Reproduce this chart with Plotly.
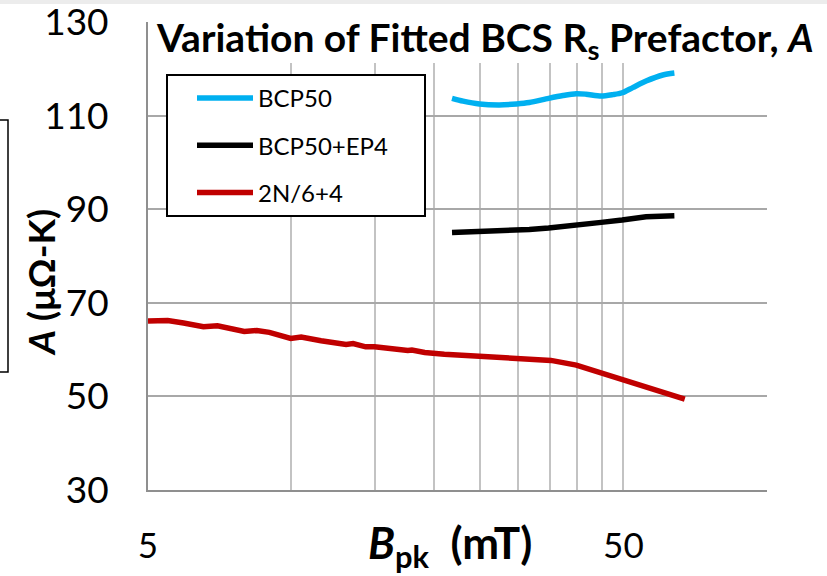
import math
import plotly.graph_objects as go

# ---------------- data ----------------
bcp50_x = [21.8, 23.0, 24.9, 27.4, 29.8, 31.7, 34.8, 37.3, 39.8, 41.7, 44.9, 47.5, 49.7, 52.3, 55.8, 60.5, 64.0]
bcp50_y = [113.7, 113.1, 112.5, 112.3, 112.5, 112.8, 113.7, 114.3, 114.7, 114.6, 114.2, 114.5, 114.9, 116.0, 117.4, 118.7, 119.1]

ep4_x = [21.8, 24.9, 29.8, 31.7, 34.8, 39.8, 44.9, 49.7, 55.8, 64.0]
ep4_y = [85.05, 85.3, 85.4, 85.7, 86.0, 86.5, 87.2, 87.7, 88.4, 88.6]

n2_x = [5.0, 5.5, 5.94, 6.54, 7.0, 7.44, 7.97, 8.47, 9.0, 9.98, 10.5, 11.56, 12.07, 13.05, 13.5,
        14.35, 14.98, 16.2, 16.6, 17.6, 17.95, 19.1, 21.0, 24.9, 29.6, 32.3, 35.2, 39.8, 44.9, 49.8, 56.2, 67.3]
n2_y = [66.1, 66.2, 65.7, 64.9, 65.1, 64.6, 63.9, 64.1, 63.7, 62.4, 62.7, 61.9, 61.7, 61.1, 61.3,
        60.6, 60.6, 60.1, 60.2, 59.8, 59.9, 59.4, 59.0, 58.6, 58.3, 58.1, 57.7, 56.7, 55.0, 53.4, 51.9, 49.4]

x_tickvals = [5, 50]
x_ticktext = ["5", "50"]
x_minor_gridvals = [10, 15, 20, 25, 30, 35, 40, 45, 100]
y_tickvals = [30, 50, 70, 90, 110, 130]

series_names = ["BCP50", "BCP50+EP4", "2N/6+4"]
series_colors = ["#00B0F0", "#000000", "#C00000"]

# ---------------- figure ----------------
W, H = 827, 576
L, R, T, B = 148, 60, 22, 86
pw, ph = W - L - R, H - T - B


def px(xp):
    return (xp - L) / pw


def py(yp):
    return (H - B - yp) / ph


fig = go.Figure()
pad = "\u00a0" * 5  # keeps the legend box as wide as the original
for i, (xs, ys) in enumerate([(bcp50_x, bcp50_y), (ep4_x, ep4_y), (n2_x, n2_y)]):
    label = series_names[i] + (pad if i == 1 else "")
    fig.add_trace(go.Scatter(
        x=xs, y=ys, mode="lines", name=label, legendgroup=series_names[i],
        line=dict(color=series_colors[i], width=5.5,
                  shape="spline" if i == 0 else "linear", smoothing=0.8),
        showlegend=True,
    ))

FONT = "Lato"

fig.update_layout(
    width=W, height=H,
    margin=dict(l=L, r=R, t=T, b=B, autoexpand=False),
    paper_bgcolor="white", plot_bgcolor="white",
    font=dict(family=FONT, color="black"),
    showlegend=True,
    legend=dict(
        x=px(166), y=py(74), xanchor="left", yanchor="top",
        bgcolor="white", bordercolor="black", borderwidth=2,
        font=dict(family=FONT, size=24, color="black"),
        itemwidth=56, tracegroupgap=13, traceorder="grouped",
        indentation=24,
    ),
    xaxis=dict(
        type="log", range=[math.log10(5), math.log10(100) + 0.001],
        tickvals=x_tickvals, ticktext=x_ticktext, ticks="", tickangle=0,
        showgrid=True, gridcolor="#c3c3c3", gridwidth=1.5,
        minor=dict(tickvals=x_minor_gridvals, showgrid=True, gridcolor="#c3c3c3",
                   gridwidth=1.5, ticks=""),
        showline=True, linecolor="#8f8f8f", linewidth=2,
        tickfont=dict(family=FONT, size=35, color="black"),
        ticklabelstandoff=24, zeroline=False, ticklabeloverflow="allow",
    ),
    yaxis=dict(
        range=[30, 130.02], tickvals=y_tickvals, ticks="",
        showgrid=True, gridcolor="#a8a8a8", gridwidth=1.8,
        showline=True, linecolor="#8f8f8f", linewidth=2,
        tickfont=dict(family=FONT, size=37, color="black"),
        ticklabelstandoff=30, zeroline=False, ticklabeloverflow="allow",
    ),
)

shapes = [
    # white title backdrop hiding the top of the grid
    dict(type="rect", xref="paper", yref="paper", x0=px(152), x1=px(830), y0=py(63), y1=py(19),
         fillcolor="white", line=dict(width=0), layer="above"),
    # faint strip at top edge
    dict(type="rect", xref="paper", yref="paper", x0=px(-5), x1=px(830), y0=py(4), y1=py(-2),
         fillcolor="#ececec", line=dict(width=0), layer="above"),
    # fragment of neighbouring box on the left edge
    dict(type="rect", xref="paper", yref="paper", x0=px(-60), x1=px(8), y0=py(372), y1=py(120),
         fillcolor="rgba(0,0,0,0)", line=dict(color="black", width=1.5), layer="above"),
]
fig.update_layout(shapes=shapes)

annotations = [
    dict(text="<b>Variation of Fitted BCS R<sub>s</sub> Prefactor, <i>A</i></b>",
         xref="paper", yref="paper", x=px(485), y=py(40), xanchor="center", yanchor="middle",
         showarrow=False, font=dict(family=FONT, size=39, color="black")),
    dict(text="<b><i>B</i><sub>pk</sub>\u00a0 (mT)</b>",
         xref="paper", yref="paper", x=px(450), y=py(545), xanchor="center", yanchor="middle",
         showarrow=False, font=dict(family=FONT, size=44, color="black")),
    dict(text="<b><i>A</i> (μΩ-K)</b>", textangle=-90,
         xref="paper", yref="paper", x=px(40), y=py(282), xanchor="center", yanchor="middle",
         showarrow=False, font=dict(family=FONT, size=37, color="black")),
]
fig.update_layout(annotations=annotations)

fig.write_html("out.html", config={"displayModeBar": False},
               post_script="document.body.style.margin='0px';")
